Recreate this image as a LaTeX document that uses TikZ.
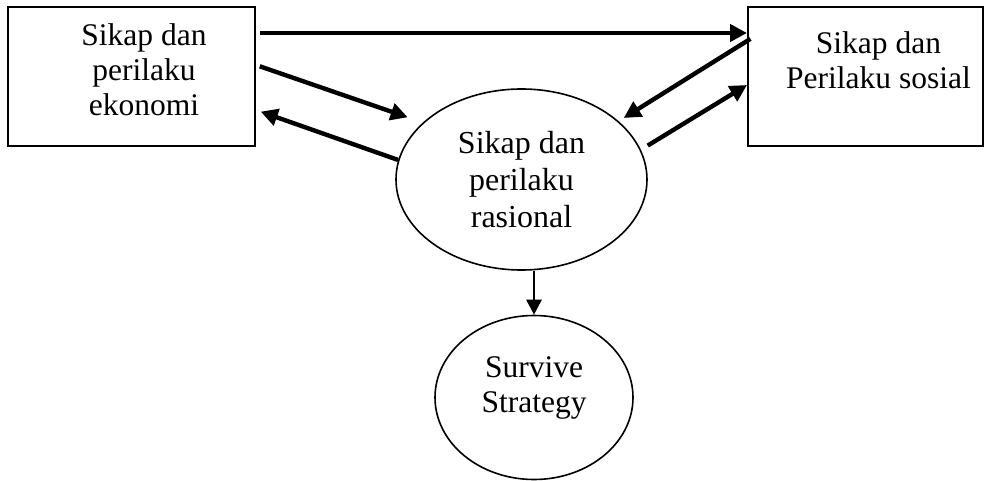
\documentclass[tikz,border=0pt]{standalone}
\usepackage{fontspec}
\setmainfont{Liberation Serif}
\usetikzlibrary{calc,arrows.meta,shapes.geometric}

\begin{document}
\begin{tikzpicture}[x=0.5pt, y=-0.5pt, >={Triangle[length=8.5pt,width=8.5pt]}]

    % Styles for boxes, ellipses, texts and arrows
    \tikzset{kotak/.style={draw, rectangle, line width=1pt, inner sep=0pt}}
    \tikzset{elips/.style={draw, ellipse, line width=0.8pt, inner sep=0pt}}
    \tikzset{teks/.style={align=center, inner sep=0pt, font=\fontsize{15.75}{17.5}\selectfont}}
    \tikzset{panah/.style={->, line width=2.2pt}}

    \useasboundingbox (0,0) rectangle (985,481);

    % Two boxes on top
    \node [kotak, minimum width=123.5pt, minimum height=69.5pt] (eko) at (131.5,77) {};
    \node [kotak, minimum width=117.5pt, minimum height=69.5pt] (sos) at (865.5,77) {};
    \node [teks] (eko_t) at ([xshift=6.25pt, yshift=3.85pt]eko.center) {Sikap dan\\perilaku\\ekonomi};
    \node [teks] (sos_t) at ([xshift=6.5pt, yshift=8.6pt]sos.center) {Sikap dan\\Perilaku sosial};

    % Ellipses in the middle and below
    \node [elips, teks, font=\fontsize{16}{18.3}\selectfont, minimum width=125.5pt, minimum height=90.5pt] (ras) at (521.5,179.5) {Sikap dan\\perilaku\\rasional};
    \node [elips, minimum width=99pt, minimum height=82pt] (srv) at (534,397.5) {};
    \node [teks] (srv_t) at ([yshift=4.9pt]srv.center) {Survive\\Strategy};

    % Arrows between the boxes and the ellipse
    \draw [panah, shorten <=2pt] ([yshift=22pt]eko.east) -- ([yshift=22pt]sos.west);
    \draw [panah, shorten <=2pt, shorten >=8pt] ([yshift=6pt]eko.east) -- (ras.150);
    \draw [panah, shorten >=2.5pt] (ras.171) -- ([yshift=-16.5pt]eko.east);
    \draw [panah, shorten <=-2pt, shorten >=3pt] ([yshift=18pt]sos.west) -- (ras.31);
    \draw [panah, shorten <=4pt] (ras.14) -- ([yshift=-4pt]sos.west);

    % Arrow down to the strategy
    \draw [->, line width=1.4pt, >={Triangle[length=7.5pt,width=7.5pt]}] (ras.south -| srv.north) -- (srv.north);

\end{tikzpicture}
\end{document}
